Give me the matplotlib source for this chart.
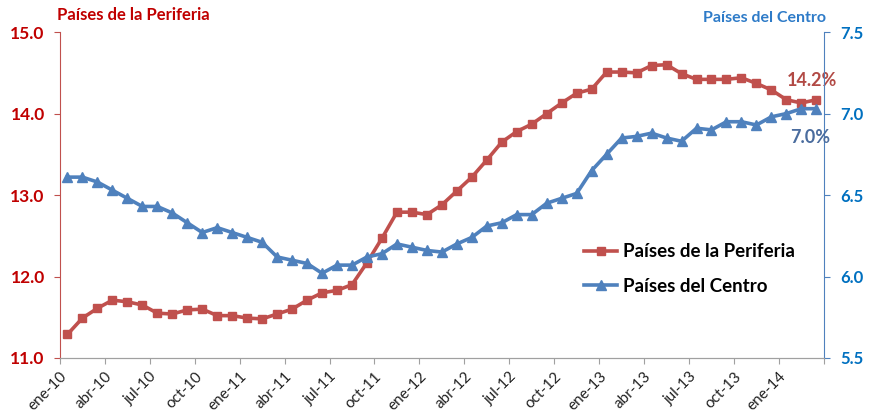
import matplotlib.pyplot as plt
import numpy as np

plt.rcParams['font.family'] = ['Lato', 'DejaVu Sans']

# === DATA ===
months = ["ene", "feb", "mar", "abr", "may", "jun", "jul", "ago", "sep", "oct", "nov", "dic"]
periods = [f"{m}-{y:02d}" for y in range(10, 15) for m in months][:51]  # ene-10 .. mar-14

periferia = [11.29, 11.49, 11.61, 11.71, 11.69, 11.65, 11.55, 11.54, 11.59, 11.60,
             11.52, 11.52, 11.49, 11.48, 11.54, 11.60, 11.71, 11.80, 11.83, 11.90,
             12.17, 12.47, 12.79, 12.79, 12.76, 12.88, 13.05, 13.22, 13.43, 13.65,
             13.78, 13.87, 14.00, 14.13, 14.25, 14.30, 14.51, 14.51, 14.50, 14.59,
             14.60, 14.49, 14.42, 14.42, 14.42, 14.44, 14.37, 14.29, 14.17, 14.13,
             14.17]
centro = [6.61, 6.61, 6.58, 6.53, 6.48, 6.43, 6.43, 6.39, 6.33, 6.27,
          6.30, 6.27, 6.24, 6.21, 6.12, 6.10, 6.08, 6.02, 6.07, 6.07,
          6.12, 6.14, 6.20, 6.18, 6.16, 6.15, 6.20, 6.24, 6.31, 6.33,
          6.38, 6.38, 6.45, 6.48, 6.51, 6.65, 6.75, 6.85, 6.86, 6.88,
          6.85, 6.83, 6.91, 6.90, 6.95, 6.95, 6.93, 6.98, 7.00, 7.03,
          7.03]

RED = "#C0504D"
BLUE = "#4F81BD"
RED_TXT = "#C00000"
BLUE_TXT = "#0070C0"

x = np.arange(len(periods))

fig = plt.figure(figsize=(8.69, 4.17), dpi=100)
ax1 = fig.add_axes([0.069, 0.1415, 0.879, 0.7815])
ax2 = ax1.twinx()

l1, = ax1.plot(x, periferia, color=RED, lw=2.6, marker='s', ms=5.5,
               label="Países de la Periferia")
l2, = ax2.plot(x, centro, color=BLUE, lw=2.6, marker='^', ms=7.5,
               label="Países del Centro")

ax1.set_xlim(-0.5, len(periods) - 0.5)
ax1.set_ylim(11.0, 15.0)
ax2.set_ylim(5.5, 7.5)
ax1.set_yticks(np.arange(11.0, 15.01, 1.0))
ax2.set_yticks(np.arange(5.5, 7.51, 0.5))
ax1.yaxis.set_major_formatter(plt.FormatStrFormatter('%.1f'))
ax2.yaxis.set_major_formatter(plt.FormatStrFormatter('%.1f'))

ticks = np.arange(-0.5, len(periods), 3)
ax1.set_xticks(ticks)
ax1.set_xticklabels([periods[int(t + 0.5)] if int(t + 0.5) < len(periods) else "" for t in ticks],
                    rotation=45, ha='right', rotation_mode='anchor', fontsize=11, color="#222222")
ax1.tick_params(axis='x', length=4, color="#A0A0A0", pad=4)
ax1.tick_params(axis='y', length=4, color=RED, labelcolor=RED_TXT, labelsize=12.5, pad=7)
ax2.tick_params(axis='y', length=4, color=BLUE, labelcolor=BLUE_TXT, labelsize=12, pad=8)
for lab in ax1.get_yticklabels() + ax2.get_yticklabels():
    lab.set_fontweight('bold')

for ax in (ax1, ax2):
    ax.spines['top'].set_visible(False)
    ax.spines['bottom'].set_color("#A0A0A0")
ax1.spines['left'].set_color(RED)
ax2.spines['left'].set_visible(False)
ax2.spines['right'].set_color(BLUE)
ax1.spines['right'].set_visible(False)

fig.text(0.066, 0.965, "Países de la Periferia", color=RED_TXT, fontsize=12,
         fontweight='bold', va='center', ha='left')
fig.text(0.950, 0.958, "Países del Centro", color="#2E7BC8", fontsize=11.5,
         fontweight='bold', va='center', ha='right')

ax1.text(49.7, 14.40, "14.2%", color="#B24A45", fontsize=13, fontweight='bold',
         ha='center', va='center')
ax2.text(49.6, 6.856, "7.0%", color="#4A6C9E", fontsize=13, fontweight='bold',
         ha='center', va='center')

ax2.legend(handles=[l1, l2], loc='upper left', bbox_to_anchor=(0.663, 0.435),
           bbox_transform=fig.transFigure, frameon=False,
           prop={'weight': 'bold', 'size': 13.5}, handlelength=1.8, handletextpad=0.3,
           labelspacing=0.95, borderaxespad=0)

fig.savefig("out.png", dpi=100)
